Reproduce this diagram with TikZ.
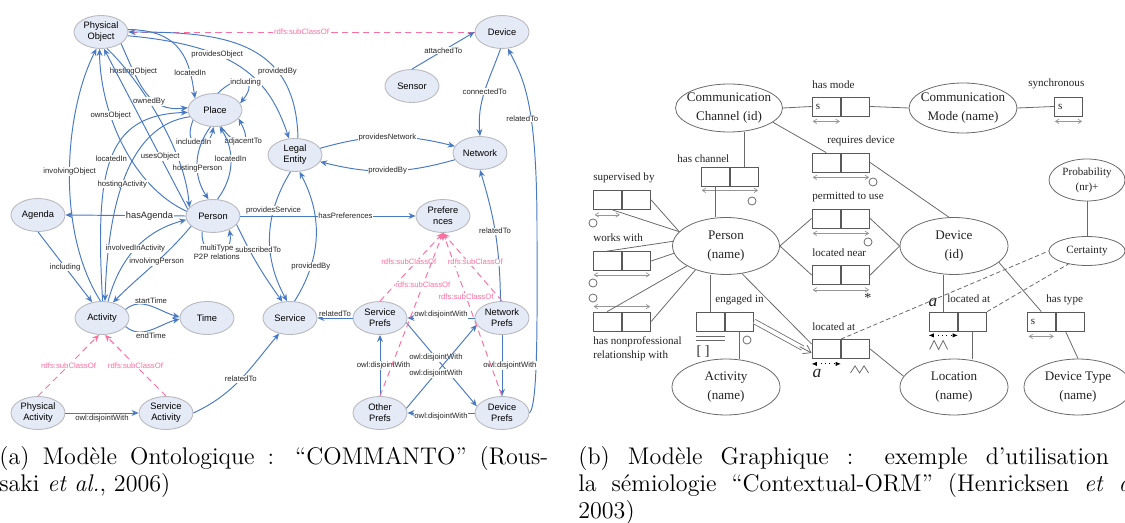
\documentclass[tikz,border=0pt]{standalone}
\usepackage{fontspec}
\newfontfamily\arialfont{Liberation Sans}
\newfontfamily\timesfont{Liberation Serif}
\usetikzlibrary{arrows.meta,shapes.geometric,positioning,calc}
\definecolor{relblue}{RGB}{72,122,196}
\definecolor{subpink}{RGB}{255,110,160}
\definecolor{classfill}{RGB}{228,234,246}
\definecolor{classline}{RGB}{185,185,192}
\definecolor{ormgray}{RGB}{105,105,105}
\definecolor{ormtext}{RGB}{35,35,35}
\tikzset{
  ontoclass/.style={ellipse, draw=classline, fill=classfill, line width=0.5pt,
    minimum width=1.08cm, minimum height=0.66cm, inner sep=0pt, align=center,
    font=\arialfont\fontsize{5.3}{6.3}\selectfont},
  ontorel/.style={draw=relblue, line width=0.55pt, -{Stealth[length=4pt,width=3.4pt]}},
  subcls/.style={draw=subpink, line width=0.55pt, dash pattern=on 3.5pt off 2.5pt,
    -{Stealth[length=4pt,width=3.4pt]}},
  rlab/.style={font=\arialfont\fontsize{4.4}{5.2}\selectfont, fill=white,
    inner sep=0.4pt, text=black!85, align=center},
  slab/.style={rlab, text=subpink},
  entity/.style={ellipse, draw=ormgray, line width=0.45pt, inner xsep=-4pt,
    inner ysep=0pt, align=center, text=ormtext,
    font=\timesfont\fontsize{7.45}{10.8}\selectfont},
  rolecell/.style={draw=ormgray!85!black, line width=0.45pt, minimum width=0.57cm,
    minimum height=0.38cm, inner sep=0pt, text=ormtext,
    font=\timesfont\fontsize{6.3}{7}\selectfont},
  scell/.style={rolecell, text width=0.42cm, align=left},
  ormlab/.style={font=\timesfont\fontsize{6.3}{7.9}\selectfont, text=ormtext,
    inner sep=0pt, anchor=west, align=left},
  ormital/.style={font=\timesfont\itshape\fontsize{10}{12}\selectfont, text=ormtext,
    inner sep=0pt},
  ormline/.style={draw=ormgray, line width=0.45pt},
  ormdash/.style={ormline, dash pattern=on 2.5pt off 1.5pt},
  ormcirc/.style={circle, draw=ormgray, line width=0.45pt, minimum size=4.6pt,
    inner sep=0pt},
  uniq/.style={draw=ormgray!70, line width=0.4pt,
    {Straight Barb[length=2pt,width=2.5pt]}-{Straight Barb[length=2pt,width=2.5pt]}},
  locarr/.style={draw=black, line width=0.45pt, dotted,
    {Latex[length=3pt,width=2.5pt]}-{Latex[length=3pt,width=2.5pt]}},
  caption/.style={font=\fontsize{13.7}{15.3}\selectfont, inner sep=0pt,
    align=justify, anchor=north west}
}
\begin{document}
\begin{tikzpicture}[x=0.02cm,y=-0.02cm]
\useasboundingbox (0,0) rectangle (1125,523);
\clip (0,0) rectangle (1125,523);

% (a) ontology
\node[ontoclass] (PhysObj) at (101,32) {Physical\\Object};
\node[ontoclass] (Place) at (215,110) {Place};
\node[ontoclass] (Agenda) at (38,215) {Agenda};
\node[ontoclass] (Person) at (213,216) {Person};
\node[ontoclass] (Activity) at (102,318) {Activity};
\node[ontoclass] (Time) at (207,318) {Time};
\node[ontoclass] (PhysAct) at (38,413) {Physical\\Activity};
\node[ontoclass] (ServAct) at (166,413) {Service\\Activity};
\node[ontoclass] (Legal) at (295,155) {Legal\\Entity};
\node[ontoclass] (Device) at (502,32) {Device};
\node[ontoclass] (Sensor) at (412,86) {Sensor};
\node[ontoclass] (Network) at (480,153) {Network};
\node[ontoclass] (Prefs) at (443,216) {Prefere\\nces};
\node[ontoclass] (Service) at (290,318) {Service};
\node[ontoclass] (ServPrefs) at (380,318) {Service\\Prefs};
\node[ontoclass] (NetPrefs) at (502,318) {Network\\Prefs};
\node[ontoclass] (OtherPrefs) at (380,413) {Other\\Prefs};
\node[ontoclass] (DevPrefs) at (502,413) {Device\\Prefs};

\draw[subcls] (Device.west) -- node[slab] {rdfs:subClassOf} (PhysObj.east);
\draw[ontorel] (Sensor.north) -- node[rlab] {attachedTo} (Device.west);
\draw[ontorel] (Device.265) to[out=250,in=95] node[rlab] {connectedTo} (Network.north);
\coordinate (devRise) at (537,230);
\draw[ontorel] (DevPrefs.east) .. controls +(9,-8) and +(0,80) .. (devRise)
  .. controls +(0,-130) and +(15,30) .. (Device.290) node[rlab,pos=0.4,xshift=-5pt] {relatedTo};
\draw[ontorel] (Legal.15) to[bend left=15] node[rlab] {providesNetwork} (Network.165);
\draw[ontorel] (Network.195) to[bend left=15] node[rlab] {providedBy} (Legal.345);
\draw[ontorel] (PhysObj.-8) .. controls +(110,10) and +(-20,-60) .. (Legal.110)
  node[rlab,pos=0.35] {providesObject};
\draw[ontorel] (Legal.80) .. controls +(-2,-100) and +(90,0) .. (PhysObj.east)
  node[rlab,pos=0.3] {providedBy};
\draw[ontorel] (PhysObj.-30) .. controls +(18,40) and +(-40,5) .. (Place.175)
  node[rlab,pos=0.25] {hostingObject};
\draw[ontorel] (PhysObj.5) .. controls +(55,0) and +(-5,-35) .. (Place.150)
  node[rlab,pos=0.75] {locatedIn};
\draw[ontorel] (Place.80) .. controls +(20,-20) and +(20,-25) .. (Place.15)
  node[rlab,pos=0.55] {including};
\draw[ontorel] (Place.205) .. controls +(-12,28) and +(-5,25) .. (Place.265)
  node[rlab,pos=0.4] {includedIn};
\draw[ontorel] (Place.290) .. controls +(18,25) and +(15,28) .. (Place.-20)
  node[rlab,pos=0.55] {adjacentTo};
\draw[ontorel] (Place.255) to[bend right=35] node[rlab,pos=0.58] {hostingPerson} (Person.105);
\draw[ontorel] (Person.75) to[bend right=35] node[rlab,pos=0.56] {locatedIn} (Place.285);
\draw[ontorel] (PhysObj.290) .. controls (140,80) and (185,150) .. (Person.160)
  node[rlab,pos=0.4] {ownedBy};
\draw[ontorel] (Person.165) -- node[rlab,pos=0.33] {usesObject} (PhysObj.280);
\draw[ontorel] (Person.170) .. controls (130,185) and (100,110) .. (PhysObj.265)
  node[rlab,pos=0.65] {ownsObject};
\draw[ontorel] (Activity.95) .. controls (55,230) and (65,110) .. (PhysObj.255)
  node[rlab,pos=0.5] {involvingObject};
\draw[ontorel] (Activity.88) .. controls (95,170) and (105,115) .. (Place.185)
  node[rlab,pos=0.5] {locatedIn};
\draw[ontorel] (Place.195) .. controls (130,125) and (108,200) .. (Activity.80)
  node[rlab,pos=0.55] {hostingActivity};
\draw[ontorel] (Person.west) -- node[rlab,pos=0.3,font=\arialfont\fontsize{5.3}{6.3}\selectfont] {hasAgenda} (Agenda.east);
\draw[ontorel] (Agenda.south) -- node[rlab] {including} (Activity.122);
\draw[ontorel] (Activity.70) to[out=75,in=195] node[rlab] {involvedInActivity} (Person.188);
\draw[ontorel] (Person.205) to[out=230,in=45] node[rlab,pos=0.45] {involvingPerson} (Activity.55);
\draw[ontorel] (Activity.20) to[out=40,in=165] node[rlab,yshift=3pt] {startTime} (Time.178);
\draw[ontorel] (Activity.-20) to[out=-40,in=195] node[rlab,yshift=-3pt] {endTime} (Time.182);
\draw[subcls] (PhysAct.north) -- node[slab] {rdfs:subClassOf} (Activity.260);
\draw[subcls] (ServAct.north) -- node[slab] {rdfs:subClassOf} (Activity.280);
\draw[ontorel] (PhysAct.east) -- node[rlab,below=0.3pt] {owl:disjointWith} (ServAct.west);
\draw[ontorel] (ServAct.east) to[out=25,in=230] node[rlab] {relatedTo} (Service.235);
\draw[ontorel] (Person.235) .. controls +(-2,30) and +(5,28) .. (Person.320)
  node[rlab,pos=0.5] {multiType\\P2P relations};
\draw[ontorel] (Legal.255) to[bend right=30] node[rlab,pos=0.3] {providesService} (Service.100);
\draw[ontorel] (Service.75) to[bend right=30] node[rlab,pos=0.27] {providedBy} (Legal.285);
\draw[ontorel] (Person.-20) to[bend right=5] node[rlab,pos=0.3,xshift=5pt] {subscribedTo} (Service.115);
\draw[ontorel] (Person.east) -- node[rlab,pos=0.6] {hasPreferences} (Prefs.west);
\draw[ontorel] (ServPrefs.west) -- node[rlab,above=0.3pt] {relatedTo} (Service.east);
\draw[ontorel] (NetPrefs.95) to[bend right=8] node[rlab,pos=0.53] {relatedTo} (Network.south);
\draw[ontorel] (NetPrefs.west) -- node[rlab,yshift=2pt] {owl:disjointWith} (ServPrefs.east);
\draw[ontorel] (OtherPrefs.north) -- node[rlab,xshift=2pt] {owl:disjointWith} (ServPrefs.south);
\draw[ontorel] (NetPrefs.south) -- node[rlab,xshift=4.5pt] {owl:disjointWith} (DevPrefs.north);
\draw[ontorel] (DevPrefs.west) -- node[rlab,yshift=-2pt] {owl:disjointWith} (OtherPrefs.east);
\draw[ontorel] (ServPrefs.-10) -- node[rlab,pos=0.42] {owl:disjointWith} (DevPrefs.165);
\draw[ontorel] (OtherPrefs.10) -- node[rlab,pos=0.42] {owl:disjointWith} (NetPrefs.195);
\draw[subcls] (ServPrefs.north) -- node[slab,pos=0.57,xshift=-4pt] {rdfs:subClassOf} (Prefs.south);
\draw[subcls] (OtherPrefs.north) -- node[slab,pos=0.68] {rdfs:subClassOf} (Prefs.south);
\draw[subcls] (DevPrefs.north) -- node[slab,pos=0.61] {rdfs:subClassOf} (Prefs.south);
\draw[subcls] (NetPrefs.north) -- node[slab,pos=0.57,xshift=4pt] {rdfs:subClassOf} (Prefs.south);

% (b) Contextual-ORM
\node[entity, minimum width=2.14cm, minimum height=0.96cm] (cChannel) at (729,108) {Communication\\Channel (id)};
\node[entity, minimum width=2.16cm, minimum height=1.0cm] (cMode) at (963,108) {Communication\\Mode (name)};
\node[entity, minimum width=2.14cm, minimum height=1.14cm] (oPerson) at (726,246) {Person\\(name)};
\node[entity, minimum width=2.16cm, minimum height=1.14cm] (oDevice) at (954,246) {Device\\(id)};
\node[entity, minimum width=2.16cm, minimum height=1.12cm] (oActivity) at (726,387) {Activity\\(name)};
\node[entity, minimum width=2.16cm, minimum height=1.12cm] (oLocation) at (954,387) {Location\\(name)};
\node[entity, minimum width=2.16cm, minimum height=1.12cm] (oDevType) at (1078,387) {Device Type\\(name)};
\node[entity, minimum width=1.52cm, minimum height=0.58cm, font=\timesfont\fontsize{6.3}{7.9}\selectfont] (oCertainty) at (1087,251) {Certainty};
\node[entity, minimum width=1.52cm, minimum height=0.84cm, font=\timesfont\fontsize{6.3}{8.5}\selectfont] (oProb) at (1087,180) {Probability\\(nr)+};

\node[scell] (modeA) at (826.25,106.5) {s};
\node[rolecell,right=0pt of modeA] (modeB) {};
\node[scell] (syncA) at (1068.5,106.5) {s};
\node[rolecell] (reqA) at (826.25,162.5) {};
\node[rolecell,right=0pt of reqA] (reqB) {};
\node[rolecell] (permA) at (826.25,218.5) {};
\node[rolecell,right=0pt of permA] (permB) {};
\node[rolecell] (nearA) at (826.25,275) {};
\node[rolecell,right=0pt of nearA] (nearB) {};
\node[rolecell] (chanA) at (715.25,176.5) {};
\node[rolecell,right=0pt of chanA] (chanB) {};
\node[rolecell] (supA) at (607.25,200) {};
\node[rolecell,right=0pt of supA] (supB) {};
\node[rolecell] (workA) at (607.25,261) {};
\node[rolecell,right=0pt of workA] (workB) {};
\node[rolecell] (nprofA) at (607.25,321.5) {};
\node[rolecell,right=0pt of nprofA] (nprofB) {};
\node[rolecell] (engA) at (710.25,321.5) {};
\node[rolecell,right=0pt of engA] (engB) {};
\node[rolecell] (locA) at (826.25,349) {};
\node[rolecell,right=0pt of locA] (locB) {};
\node[rolecell] (loc2A) at (943.25,321.5) {};
\node[rolecell,right=0pt of loc2A] (loc2B) {};
\node[scell] (typeA) at (1041.25,321.5) {s};
\node[rolecell,right=0pt of typeA] (typeB) {};

\node[ormlab] (modeLab) at (812,85) {has mode};
\node[ormlab] (syncLab) at (1028,84) {synchronous};
\node[ormlab] (reqLab) at (827,141) {requires device};
\node[ormlab] (permLab) at (812,197) {permitted to use};
\node[ormlab] (nearLab) at (812,253) {located near};
\node[ormlab] (chanLab) at (677,159) {has channel};
\node[ormlab] (supLab) at (593,178) {supervised by};
\node[ormlab] (workLab) at (593,238) {works with};
\node[ormlab] (nprofLab) at (593,349) {has nonprofessional\\relationship with};
\node[ormlab] (engLab) at (715,300) {engaged in};
\node[ormlab] (locLab) at (812,327) {located at};
\node[ormlab] (loc2Lab) at (947,299) {located at};
\node[ormlab] (typeLab) at (1046,300) {has type};
\node[ormital] (locMark) at (817,373) {a};
\node[ormital] (loc2Mark) at (933,302) {a};
\node[ormlab,anchor=center,font=\timesfont\fontsize{8}{9}\selectfont] (nearStar) at (868,298) {*};
\node[ormlab,anchor=center,font=\timesfont\fontsize{8}{9}\selectfont] (engBrack) at (703,352) {[ ]};

\node[ormcirc] (reqCirc) at (873,182) {};
\node[ormcirc] (permCirc) at (868,242) {};
\node[ormcirc] (chanCirc) at (752,201) {};
\node[ormcirc] (supCirc) at (593,223) {};
\node[ormcirc] (workCircA) at (593,283) {};
\node[ormcirc] (workCircB) at (593,298) {};
\node[ormcirc] (engCirc) at (747,340) {};

\draw[uniq] ($(modeA.south west)+(1,5)$) -- ($(modeA.south east)+(-1,5)$);
\draw[uniq] ($(syncA.south west)+(1,5)$) -- ($(syncA.south east)+(-1,5)$);
\draw[uniq] ($(reqA.south west)+(1,5)$) -- ($(reqB.south east)+(-1,5)$);
\draw[uniq] ($(permA.south west)+(1,5)$) -- ($(permB.south east)+(-1,5)$);
\draw[uniq] ($(nearA.south west)+(1,5)$) -- ($(nearB.south east)+(-1,5)$);
\draw[uniq] ($(chanA.south west)+(1,4)$) -- ($(chanB.south east)+(-1,4)$);
\draw[uniq] ($(supA.south west)+(2,5)$) -- ($(supA.south east)+(-2,5)$);
\draw[uniq] ($(workA.south west)+(1,4)$) -- ($(workB.south east)+(-1,4)$);
\draw[uniq] ($(nprofA.north west)+(1,-5)$) -- ($(nprofB.north east)+(-1,-5)$);
\draw[uniq] ($(typeA.south west)+(2,5)$) -- ($(typeA.south east)+(-2,5)$);
\draw[locarr] ($(locA.south west)+(0,5)$) -- ($(locA.south east)+(0,5)$);
\draw[locarr] ($(loc2A.south west)+(0,4)$) -- ($(loc2A.south east)+(0,4)$);
\draw[ormline] ($(locB.south)+(-5,14)$) -- ++(4.5,-7) -- ++(4.5,7) -- ++(4.5,-7) -- ++(4.5,7);
\draw[ormline] ($(loc2A.south west)+(1,18)$) -- ++(4.5,-9) -- ++(4.5,9) -- ++(4.5,-9) -- ++(4.5,9);
\draw[ormline] ($(engA.south west)+(0,5)$) -- ($(engA.south east)+(0,5)$);
\draw[ormline] ($(engA.south west)+(0,9)$) -- ($(engA.south east)+(0,9)$);

\draw[ormline] (cChannel.east) -- (modeA.west);
\draw[ormline] (modeB.east) -- (cMode.west);
\draw[ormline] (cMode.east) -- (syncA.west);
\draw[ormline] (cChannel.-18) -- (reqA.north);
\draw[ormline] (reqB.east) -- (oDevice.100);
\draw[ormline] (oPerson.east) -- (permA.west);
\draw[ormline] (oPerson.east) -- (nearA.west);
\draw[ormline] (permB.east) -- (oDevice.west);
\draw[ormline] (nearB.east) -- (oDevice.west);
\draw[ormline] (chanB.north) -- (chanB.north |- cChannel.south);
\draw[ormline] (chanA.south) -- (chanA.south |- oPerson.north);
\draw[ormline] (supB.east) -- (oPerson.163);
\draw[ormline] ([xshift=3pt]supA.south) -- (oPerson.163);
\draw[ormline] (workA.north) -- (oPerson.175);
\draw[ormline] (workB.east) -- (oPerson.188);
\draw[ormline] (nprofA.north) -- (oPerson.207);
\draw[ormline] (nprofB.east) -- (oPerson.218);
\draw[ormline] (engA.north) -- (engA.north |- oPerson.south);
\draw[ormline] (engB.south) -- (engB.south |- oActivity.north);
\draw[ormline] (oPerson.-60) -- ($(locA.west)+(0,-5)$);
\coordinate (subTip) at ($(locA.west)+(0,4)$);
\draw[ormline, double=white, double distance=2.2pt] (engB.east) -- ($(subTip)+(-9,-5)$);
\draw[ormline, -{Straight Barb[length=4pt,width=5.5pt]}] ($(subTip)+(-12,-6.4)$) -- (subTip);
\draw[ormline] (locB.east) -- (oLocation.168);
\draw[ormdash] (locB.north west) -- (oCertainty.180);
\draw[ormdash] (loc2B.north east) -- (oCertainty.215);
\draw[ormline] (loc2A.north) -- (loc2A.north |- oDevice.south);
\draw[ormline] (loc2B.south) -- (loc2B.south |- oLocation.north);
\draw[ormline] (oDevice.-20) -- (typeA.north);
\draw[ormline] ($(typeB.south)+(-5,0)$) -- (oDevType.north);
\draw[ormline] (oProb.south) -- (oCertainty.north);

% captions
\node[caption, text width=10.98cm] (capA) at (-1,446)
  {(a) Modèle Ontologique : “COMMANTO” (Rous-\linebreak saki \textit{et al.}, 2006)};
\node[caption, text width=11.45cm] (capB) at (578,446)
  {(b) Modèle Graphique : exemple d’utilisation de\linebreak la sémiologie “Contextual-ORM” (Henricksen \textit{et al.},\linebreak 2003)};
\end{tikzpicture}
\end{document}
